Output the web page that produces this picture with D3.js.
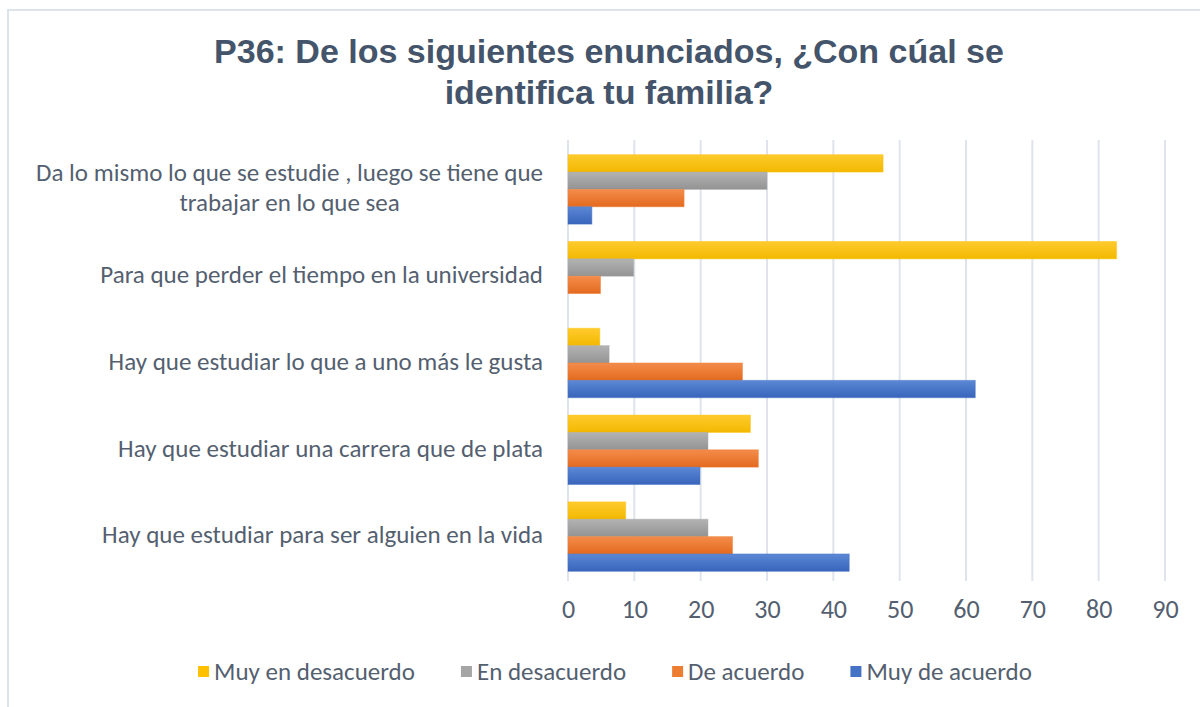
<!DOCTYPE html>
<html><head><meta charset="utf-8">
<script src="https://cdn.jsdelivr.net/npm/d3@7"></script>
<style>body{margin:0;background:#fff}svg{display:block}</style>
</head><body>
<script>
const categories = [
  "Da lo mismo lo que se estudie , luego se tiene que|trabajar en lo que sea",
  "Para que perder el tiempo en la universidad",
  "Hay que estudiar lo que a uno más le gusta",
  "Hay que estudiar una carrera que de plata",
  "Hay que estudiar para ser alguien en la vida"
];
const seriesNames = ["Muy en desacuerdo","En desacuerdo","De acuerdo","Muy de acuerdo"];
const muyEnDesacuerdo = [47.5, 82.7, 4.8, 27.5, 8.7];
const enDesacuerdo    = [30.0, 9.9, 6.2, 21.1, 21.1];
const deAcuerdo       = [17.5, 4.9, 26.3, 28.7, 24.8];
const muyDeAcuerdo    = [3.6, 0, 61.4, 19.9, 42.4];
const xTicks = [0,10,20,30,40,50,60,70,80,90];
const titleLines = ["P36: De los siguientes enunciados, ¿Con cúal se","identifica tu familia?"];

const seriesValues = [muyEnDesacuerdo, enDesacuerdo, deAcuerdo, muyDeAcuerdo];
const colors = [["#ffcb2e","#f2b800"],["#b3b3b3","#939393"],["#f48c4a","#e36a1f"],["#5c88d6","#3864bb"]];
const legendColors = ["#ffc000","#a5a5a5","#ed7d31","#4472c4"];
const textColor = "#545f70";
const font = "Calibri, Carlito, Lato, sans-serif";

const W = 1200, H = 707;
const svg = d3.select("body").append("svg").attr("width",W).attr("height",H);
const defs = svg.append("defs");
colors.forEach((c,i)=>{
  const g = defs.append("linearGradient").attr("id","g"+i).attr("x1",0).attr("y1",0).attr("x2",0).attr("y2",1);
  g.append("stop").attr("offset","0%").attr("stop-color",c[0]);
  g.append("stop").attr("offset","100%").attr("stop-color",c[1]);
});

// frame
svg.append("rect").attr("x",8).attr("y",10).attr("width",W).attr("height",H)
  .attr("fill","#fff").attr("stroke","#dde3eb").attr("stroke-width",2);

// title
svg.append("g").selectAll("text").data(titleLines).join("text")
  .attr("x",609).attr("y",(d,i)=>63+i*41)
  .attr("text-anchor","middle")
  .attr("font-family","'Liberation Sans', Arial, sans-serif")
  .attr("font-weight","bold").attr("font-size",34)
  .attr("fill","#44546a")
  .text(d=>d);

const x = d3.scaleLinear().domain([0,90]).range([568,1165]);
const y = d3.scaleBand().domain(categories).range([146,580]).paddingInner(0.2).paddingOuter(0.1);
const ys = d3.scaleBand().domain(d3.range(4)).range([0,y.bandwidth()]);

// gridlines
svg.append("g").selectAll("line").data(xTicks).join("line")
  .attr("x1",d=>x(d)).attr("x2",d=>x(d)).attr("y1",140).attr("y2",581)
  .attr("stroke","#dfe4ec").attr("stroke-width",2);

// x axis labels
const xAxis = d3.axisBottom(x).tickValues(xTicks).tickSize(0).tickPadding(0);
const xg = svg.append("g").attr("transform","translate(0,600)").call(xAxis);
xg.select(".domain").remove();
xg.selectAll("text").attr("font-family",font).attr("font-size",26).attr("fill",textColor).attr("dy","0.71em");

// bars
categories.forEach((cat,ci)=>{
  seriesValues.forEach((vals,si)=>{
    const v = vals[ci];
    if (v <= 0) return;
    svg.append("rect")
      .attr("x",x(0)).attr("y",y(cat)+ys(si))
      .attr("width",x(v)-x(0)).attr("height",ys.bandwidth())
      .attr("fill","url(#g"+si+")")
      .attr("stroke",legendColors[si]).attr("stroke-opacity",0.45).attr("stroke-width",1);
  });
});

// category labels
const labG = svg.append("g");
categories.forEach(cat=>{
  const lines = cat.split("|");
  const cy = y(cat)+y.bandwidth()/2 - 2;
  const lh = 30;
  const t = labG.append("text").attr("font-family",font).attr("font-size",25).attr("fill",textColor)
    .attr("text-anchor","middle");
  lines.forEach((l,i)=>{
    t.append("tspan").attr("y",cy + (i-(lines.length-1)/2)*lh).attr("dy","0.35em").text(l);
  });
  const maxW = d3.max(t.selectAll("tspan").nodes(), n=>n.getComputedTextLength());
  t.selectAll("tspan").attr("x",543-maxW/2);
});

// legend
const lg = svg.append("g");
let cx = 0;
seriesNames.forEach((n,i)=>{
  const g = lg.append("g");
  g.append("rect").attr("x",cx).attr("y",-5).attr("width",11).attr("height",11).attr("fill",legendColors[i]);
  const t = g.append("text").attr("x",cx+16).attr("y",0).attr("dy","0.35em")
    .attr("font-family",font).attr("font-size",25).attr("fill",textColor).text(n);
  cx += 16 + t.node().getComputedTextLength() + 46;
});
const totalW = cx - 46;
lg.attr("transform",`translate(${615-totalW/2},671)`);
</script>
</body></html>
